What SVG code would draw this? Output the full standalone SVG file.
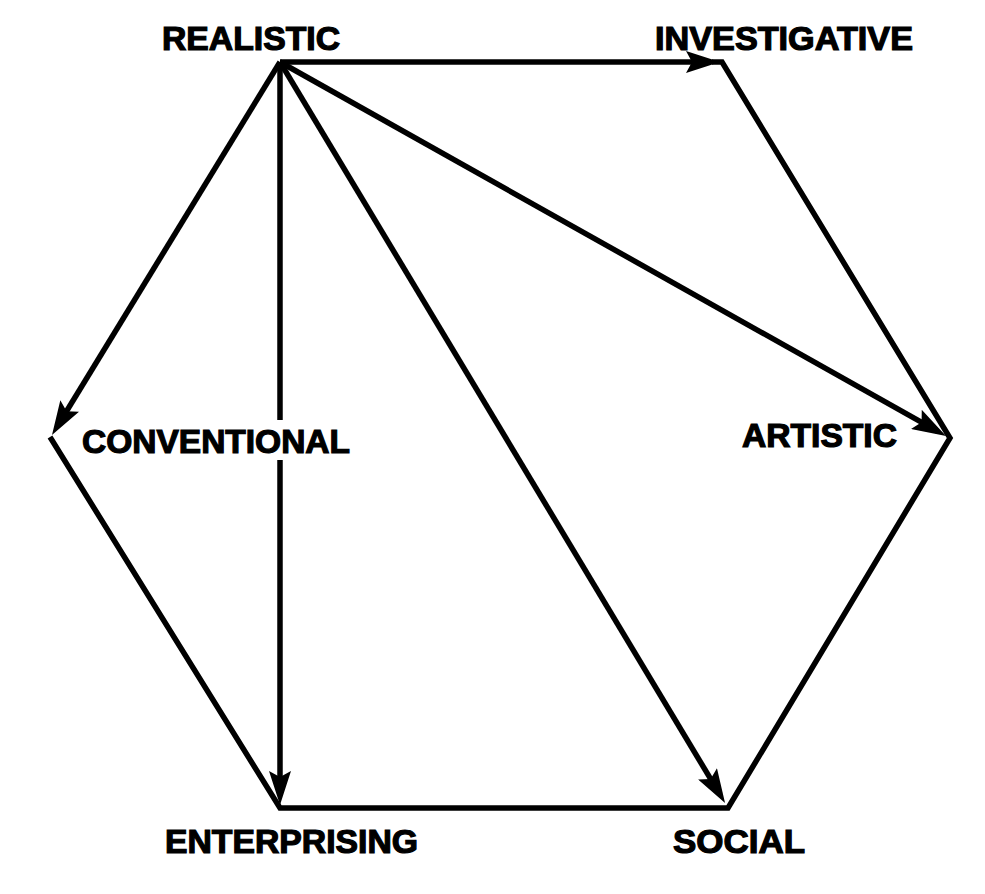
<svg xmlns="http://www.w3.org/2000/svg" width="985" height="894" viewBox="0 0 985 894">
<style>
.lbl{font-family:"Liberation Sans",Arial,sans-serif;font-weight:bold;font-size:33px;fill:#000;stroke:#000;stroke-width:1.2}
.ln{fill:none;stroke:#000;stroke-width:5.5}
</style>
<defs>
<marker id="ah" markerUnits="userSpaceOnUse" viewBox="0 0 34 22" refX="24" refY="11" markerWidth="34" markerHeight="22" orient="auto">
<path d="M0,0 L34,11 L0,22 L6,11 Z" fill="#000"/>
</marker>
</defs>
<rect width="985" height="894" fill="#fff"/>
<g id="connectors">
<polyline class="ln" stroke-linejoin="miter" points="712,62 722,62 950,438 728,808 280,808 50,437"/>
<line class="ln" x1="280" y1="62" x2="710" y2="62" marker-end="url(#ah)"/>
<line class="ln" x1="280" y1="62" x2="57.2" y2="426.5" marker-end="url(#ah)"/>
<path class="ln" d="M280,62 V420 M280,460 V795" marker-end="url(#ah)"/>
<line class="ln" x1="280" y1="62" x2="719.9" y2="794.4" marker-end="url(#ah)"/>
<line class="ln" x1="280" y1="62" x2="937.3" y2="431.1" marker-end="url(#ah)"/>
</g>
<g id="realistic"><text class="lbl" x="162" y="50" textLength="178" lengthAdjust="spacingAndGlyphs">REALISTIC</text></g>
<g id="investigative"><text class="lbl" x="655" y="50" textLength="258" lengthAdjust="spacingAndGlyphs">INVESTIGATIVE</text></g>
<g id="conventional"><text class="lbl" x="82" y="453" textLength="268" lengthAdjust="spacingAndGlyphs">CONVENTIONAL</text></g>
<g id="artistic"><text class="lbl" x="742" y="447" textLength="155" lengthAdjust="spacingAndGlyphs">ARTISTIC</text></g>
<g id="enterprising"><text class="lbl" x="165" y="853" textLength="253" lengthAdjust="spacingAndGlyphs">ENTERPRISING</text></g>
<g id="social"><text class="lbl" x="673" y="853" textLength="132" lengthAdjust="spacingAndGlyphs">SOCIAL</text></g>
</svg>
